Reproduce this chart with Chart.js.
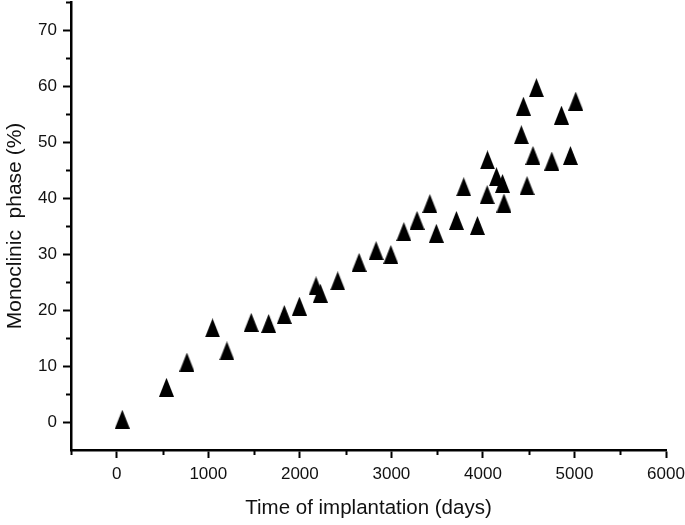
<!DOCTYPE html>
<html>
<head>
<meta charset="utf-8">
<script src="https://cdn.jsdelivr.net/npm/chart.js@4/dist/chart.umd.min.js"></script>
<style>
  html, body { margin: 0; padding: 0; background: #fff; }
  #wrap { width: 685px; height: 525px; }
</style>
</head>
<body>
<div id="wrap"><canvas id="chart" width="685" height="525"></canvas></div>
<script>
// Time of implantation (days) and monoclinic phase (%)
const days = [60, 543, 766, 1046, 1203, 1469, 1659, 1830, 1995, 2177, 2224, 2414,
  2647, 2833, 2994, 3136, 3280, 3420, 3491, 3710, 3790, 3940, 4050, 4046, 4148,
  4214, 4230, 4420, 4442, 4482, 4547, 4584, 4752, 4858, 4956, 5014];
const monoclinic = [0.5, 6.2, 10.7, 16.8, 12.7, 17.8, 17.6, 19.2, 20.7, 24.3, 23.0, 25.2,
  28.5, 30.6, 29.9, 34.0, 36.0, 39.0, 33.7, 36.0, 42.0, 35.1, 46.8, 40.6, 43.8,
  42.6, 39.1, 51.3, 56.4, 42.2, 47.6, 59.7, 46.6, 54.8, 47.6, 57.3];

// axis ticks
const xTicks = [0, 1000, 2000, 3000, 4000, 5000, 6000];
const xMinor = [-500, 500, 1500, 2500, 3500, 4500, 5500];
const yTicks = [0, 10, 20, 30, 40, 50, 60, 70];
const yMinor = [5, 15, 25, 35, 45, 55, 65, 75];

const FONT = '"Liberation Sans", Arial, sans-serif';

// filled triangle marker, a bit taller than wide like the original
function makeTriangle(w, h) {
  const c = document.createElement('canvas');
  c.width = w; c.height = h;
  const g = c.getContext('2d');
  g.fillStyle = '#000';
  g.beginPath();
  g.moveTo(w / 2, 0);
  g.lineTo(w, h);
  g.lineTo(0, h);
  g.closePath();
  g.fill();
  return c;
}

// short minor ticks between the labelled ones
const minorTicks = {
  id: 'minorTicks',
  afterDraw(chart) {
    const { ctx, scales: { x, y } } = chart;
    ctx.save();
    ctx.strokeStyle = '#000';
    ctx.lineWidth = 2;
    ctx.beginPath();
    xMinor.forEach(v => {
      const px = Math.round(x.getPixelForValue(v)) + 0.5;
      ctx.moveTo(px, x.top);
      ctx.lineTo(px, x.top + 5);
    });
    yMinor.forEach(v => {
      const py = Math.round(y.getPixelForValue(v)) + 0.5;
      ctx.moveTo(y.right - 5, py);
      ctx.lineTo(y.right, py);
    });
    ctx.stroke();
    ctx.restore();
  }
};

new Chart(document.getElementById('chart'), {
  type: 'scatter',
  data: {
    datasets: [{
      data: days.map((d, i) => ({ x: d, y: monoclinic[i] })),
      pointStyle: makeTriangle(15, 19),
      backgroundColor: '#000',
      borderColor: '#000',
      clip: false
    }]
  },
  options: {
    responsive: false,
    animation: false,
    events: [],
    layout: { autoPadding: false, padding: { top: 2, right: 19, left: 0, bottom: 0 } },
    plugins: {
      legend: { display: false },
      tooltip: { enabled: false }
    },
    scales: {
      x: {
        type: 'linear',
        min: -500,
        max: 6000,
        afterBuildTicks: s => { s.ticks = xTicks.map(v => ({ value: v })); },
        afterFit: s => { s.height = 75; s.paddingLeft = 0; s.paddingRight = 0; },
        grid: { drawOnChartArea: false, tickLength: 8, tickWidth: 2, tickColor: '#000' },
        border: { display: true, color: '#000', width: 2.5 },
        ticks: {
          color: '#111',
          padding: 6,
          font: { family: FONT, size: 17 },
          callback: v => String(v)
        },
        title: {
          display: true,
          text: 'Time of implantation (days)',
          color: '#111',
          padding: { top: 0, bottom: 4 },
          font: { family: FONT, size: 20.5 }
        }
      },
      y: {
        type: 'linear',
        min: -5,
        max: 75,
        afterBuildTicks: s => { s.ticks = yTicks.map(v => ({ value: v })); },
        afterFit: s => { s.width = 71; s.paddingTop = 0; s.paddingBottom = 0; },
        grid: { drawOnChartArea: false, tickLength: 8, tickWidth: 2, tickColor: '#000' },
        border: { display: true, color: '#000', width: 2.5 },
        ticks: {
          color: '#111',
          padding: 6,
          font: { family: FONT, size: 17 },
          callback: v => String(v)
        },
        title: {
          display: true,
          text: 'Monoclinic  phase (%)',
          color: '#111',
          padding: { top: 3, bottom: 0 },
          font: { family: FONT, size: 21 }
        }
      }
    }
  },
  plugins: [minorTicks]
});
</script>
</body>
</html>
